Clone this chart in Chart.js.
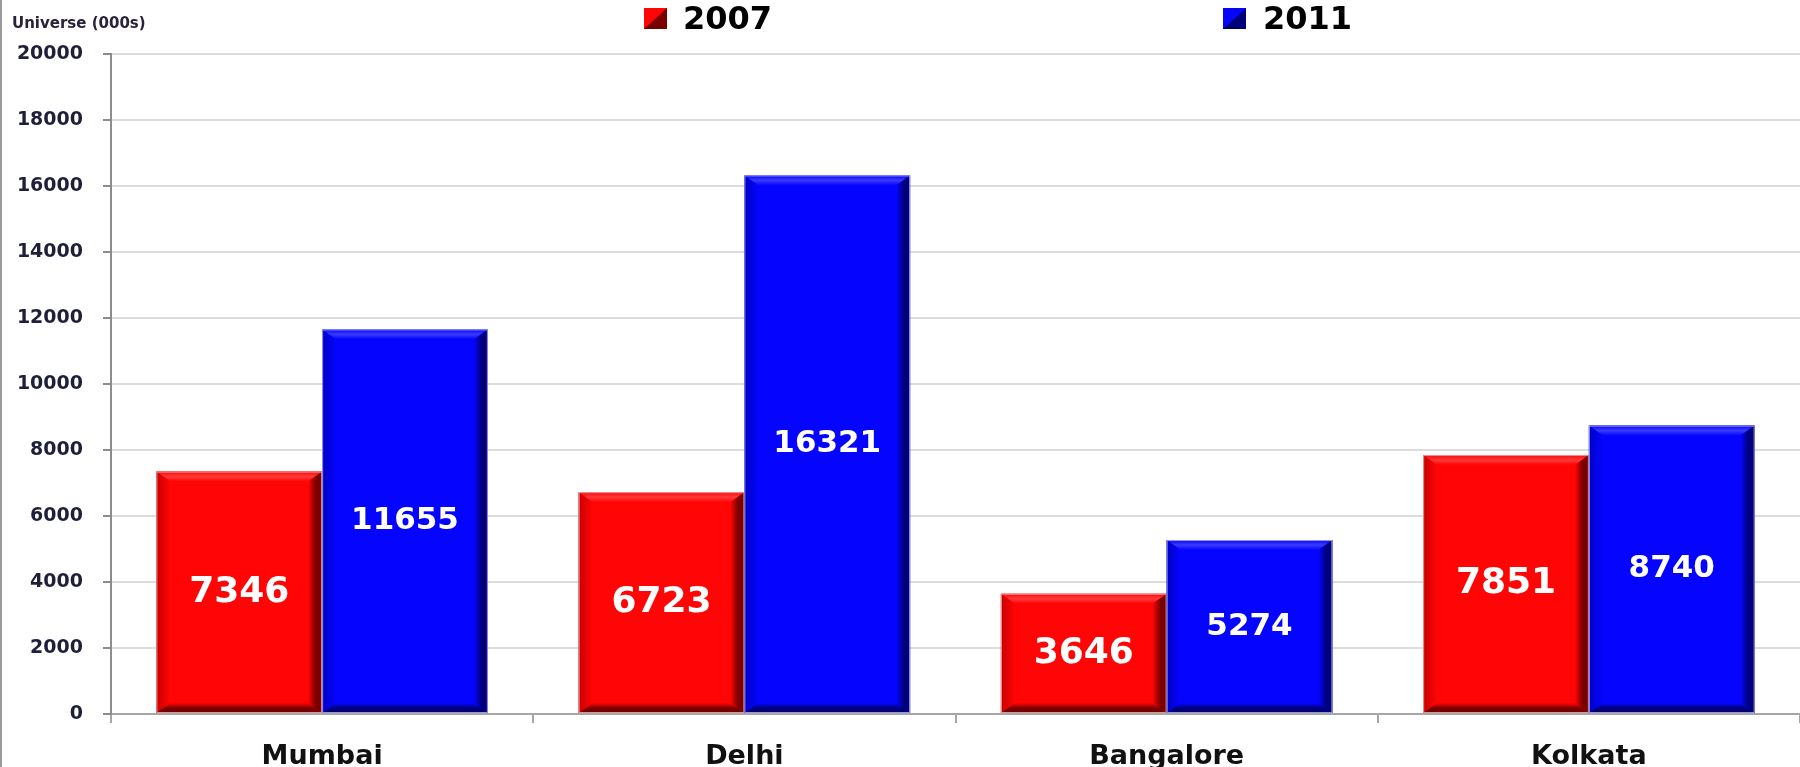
<!DOCTYPE html>
<html><head><meta charset="utf-8">
<script src="https://cdn.jsdelivr.net/npm/chart.js@4.4.1/dist/chart.umd.min.js"></script>
<style>html,body{margin:0;padding:0;background:#fff;overflow:hidden;} canvas{display:block;}</style>
</head><body>
<canvas id="c" width="1800" height="767"></canvas>
<script>
// ---- data ----
const categories = ['Mumbai', 'Delhi', 'Bangalore', 'Kolkata'];
const seriesNames = ['2007', '2011'];
const values2007 = [7346, 6723, 3646, 7851];
const values2011 = [11655, 16321, 5274, 8740];
const yMin = 0, yMax = 20000, yStep = 2000;
const yAxisTitle = 'Universe (000s)';

// ---- styles ----
const FONT = "'DejaVu Sans', Verdana, sans-serif";
const styles = [
  { main: '#ff0505', light: '#ff3a3a', left: '#c80000', right: '#7a0000', bottom: '#740000', outline: 'rgba(230,170,170,0.9)', labelSize: 36 },
  { main: '#0505ff', light: '#3a3aff', left: '#0000c4', right: '#00007c', bottom: '#000076', outline: 'rgba(170,170,230,0.9)', labelSize: 31 }
];
const legendPos = [{ box: 644, text: 683 }, { box: 1223, text: 1263 }];

const bevelPlugin = {
  id: 'bevel',
  beforeDraw(chart) {
    const ctx = chart.ctx;
    ctx.save();
    ctx.strokeStyle = '#9a9a9a';
    ctx.lineWidth = 2;
    ctx.beginPath(); ctx.moveTo(1, 0); ctx.lineTo(1, chart.height); ctx.stroke();
    ctx.restore();
  },
  afterDatasetsDraw(chart) {
    const ctx = chart.ctx;
    chart.data.datasets.forEach((ds, di) => {
      const st = styles[di];
      const meta = chart.getDatasetMeta(di);
      meta.data.forEach((el, i) => {
        const p = el.getProps(['x', 'y', 'base', 'width'], true);
        const l = p.x - p.width / 2, r = p.x + p.width / 2;
        const t = Math.min(p.y, p.base), b = Math.max(p.y, p.base);
        const bs = 14, bt = 10;
        ctx.save();
        // top
        let g = ctx.createLinearGradient(0, t, 0, t + bt);
        g.addColorStop(0, st.main); g.addColorStop(0.5, st.light); g.addColorStop(1, st.main);
        ctx.fillStyle = g;
        ctx.beginPath(); ctx.moveTo(l, t); ctx.lineTo(r, t); ctx.lineTo(r - bs, t + bt); ctx.lineTo(l + bs, t + bt); ctx.closePath(); ctx.fill();
        // left
        g = ctx.createLinearGradient(l, 0, l + bs, 0);
        g.addColorStop(0, st.left); g.addColorStop(1, st.main);
        ctx.fillStyle = g;
        ctx.beginPath(); ctx.moveTo(l, t); ctx.lineTo(l + bs, t + bt); ctx.lineTo(l + bs, b - bt); ctx.lineTo(l, b); ctx.closePath(); ctx.fill();
        // right
        g = ctx.createLinearGradient(r - bs, 0, r, 0);
        g.addColorStop(0, st.main); g.addColorStop(0.55, st.right); g.addColorStop(1, st.right);
        ctx.fillStyle = g;
        ctx.beginPath(); ctx.moveTo(r, t); ctx.lineTo(r - bs, t + bt); ctx.lineTo(r - bs, b - bt); ctx.lineTo(r, b); ctx.closePath(); ctx.fill();
        // bottom
        g = ctx.createLinearGradient(0, b - bt, 0, b);
        g.addColorStop(0, st.main); g.addColorStop(0.55, st.bottom); g.addColorStop(1, st.bottom);
        ctx.fillStyle = g;
        ctx.beginPath(); ctx.moveTo(l, b); ctx.lineTo(r, b); ctx.lineTo(r - bs, b - bt); ctx.lineTo(l + bs, b - bt); ctx.closePath(); ctx.fill();
        // outline
        ctx.strokeStyle = st.outline; ctx.lineWidth = 1;
        ctx.strokeRect(l + 0.5, t + 0.5, r - l - 1, b - t - 1);
        // value label
        ctx.fillStyle = '#ffffff';
        ctx.font = 'bold ' + st.labelSize + 'px ' + FONT;
        ctx.textAlign = 'center'; ctx.textBaseline = 'middle';
        ctx.fillText(String(ds.data[i]), p.x, (t + b) / 2);
        ctx.restore();
      });
    });
  },
  afterDraw(chart) {
    // legend
    const ctx = chart.ctx;
    ctx.save();
    chart.data.datasets.forEach((ds, di) => {
      const st = styles[di], lp = legendPos[di];
      const x = lp.box, y = 8, w = 23, h = 21;
      ctx.fillStyle = st.main; ctx.fillRect(x, y, w, h);
      ctx.fillStyle = st.right;
      ctx.beginPath(); ctx.moveTo(x + w, y); ctx.lineTo(x + w, y + h); ctx.lineTo(x + w / 2, y + h / 2); ctx.closePath(); ctx.fill();
      ctx.fillStyle = st.bottom;
      ctx.beginPath(); ctx.moveTo(x, y + h); ctx.lineTo(x + w, y + h); ctx.lineTo(x + w / 2, y + h / 2); ctx.closePath(); ctx.fill();
      ctx.fillStyle = '#000000';
      ctx.font = 'bold 32px ' + FONT;
      ctx.textAlign = 'left'; ctx.textBaseline = 'middle';
      ctx.fillText(ds.label, lp.text, 21);
    });
    ctx.restore();
  }
};

new Chart(document.getElementById('c'), {
  type: 'bar',
  data: {
    labels: categories,
    datasets: [
      { label: seriesNames[0], data: values2007, backgroundColor: styles[0].main, borderWidth: 0 },
      { label: seriesNames[1], data: values2011, backgroundColor: styles[1].main, borderWidth: 0 }
    ]
  },
  options: {
    responsive: false,
    devicePixelRatio: 1,
    animation: false,
    layout: { padding: { left: 12, top: 0, right: 0, bottom: 0 } },
    categoryPercentage: 0.785,
    barPercentage: 1.0,
    plugins: {
      legend: { display: false },
      tooltip: { enabled: false },
      title: {
        display: true, text: yAxisTitle, align: 'start', color: '#2a2238',
        font: { family: FONT, size: 15, weight: 'bold' },
        padding: { top: 15, bottom: 21 }
      }
    },
    scales: {
      x: {
        afterFit(scale) { scale.height = 53; },
        grid: { offset: true, drawOnChartArea: false, drawTicks: true, tickLength: 9, tickColor: '#a6a6a6', lineWidth: 2 },
        border: { color: '#a6a6a6', width: 2 },
        ticks: { color: '#111111', font: { family: FONT, size: 27, weight: 'bold' }, padding: 18, maxRotation: 0, autoSkip: false }
      },
      y: {
        min: yMin, max: yMax,
        afterFit(scale) { scale.width = 99; },
        grid: { color: '#dcdcdc', lineWidth: 2, drawTicks: true, tickLength: 8, tickColor: '#8c8c8c' },
        border: { color: '#8c8c8c', width: 2 },
        ticks: { stepSize: yStep, color: '#1f1f3a', font: { family: FONT, size: 19, weight: 'bold' }, padding: 20,
                 callback: (v) => String(v) }
      }
    }
  },
  plugins: [bevelPlugin]
});
</script>
</body></html>
